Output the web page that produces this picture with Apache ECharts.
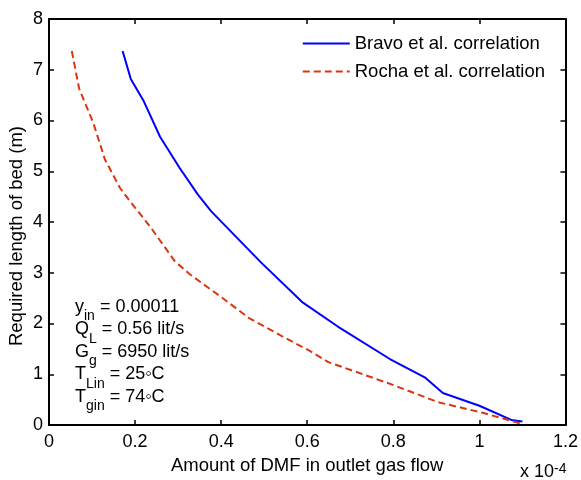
<!DOCTYPE html>
<html>
<head>
<meta charset="utf-8">
<script src="https://cdn.jsdelivr.net/npm/echarts@6/dist/echarts.min.js"></script>
<style>
  html, body { margin: 0; padding: 0; background: #fff; }
  #chart { width: 581px; height: 480px; }
</style>
</head>
<body>
<div id="chart"></div>
<script>
// values (x in units of 1e-4)
const bravoX = [0.171, 0.190, 0.219, 0.258, 0.304, 0.346, 0.377, 0.493, 0.590, 0.671, 0.792, 0.873, 0.915, 1.000, 1.074, 1.100];
const bravoY = [7.37, 6.82, 6.40, 5.68, 5.06, 4.54, 4.21, 3.20, 2.41, 1.94, 1.30, 0.94, 0.63, 0.38, 0.10, 0.07];
const rochaX = [0.053, 0.070, 0.103, 0.130, 0.165, 0.188, 0.234, 0.292, 0.327, 0.397, 0.466, 0.548, 0.606, 0.649, 0.799, 0.904, 1.008, 1.100];
const rochaY = [7.37, 6.63, 5.95, 5.23, 4.67, 4.41, 3.92, 3.23, 2.97, 2.54, 2.10, 1.72, 1.46, 1.24, 0.79, 0.45, 0.24, 0.02];
const seriesNames = ['Bravo et al. correlation', 'Rocha et al. correlation'];
const xTicks = { min: 0, max: 1.2, step: 0.2 };
const yTicks = { min: 0, max: 8, step: 1 };

const font = "'Liberation Sans', Arial, sans-serif";
const chart = echarts.init(document.getElementById('chart'));

const pairs = (xs, ys) => xs.map((x, i) => [x, ys[i]]);

const axisCommon = {
  axisLine: { onZero: false, lineStyle: { color: '#000', width: 2 } },
  axisTick: { inside: true, length: 5, lineStyle: { color: '#000', width: 1.5 } },
  splitLine: { show: false },
};

const option = {
  animation: false,
  textStyle: { fontFamily: font },
  grid: { left: 49, right: 15, top: 19, bottom: 54 },
  legend: {
    orient: 'vertical',
    right: 31,
    top: 29,
    itemWidth: 47,
    itemHeight: 14,
    itemGap: 9,
    itemStyle: { opacity: 0 },
    textStyle: { fontSize: 18.5, color: '#000', fontFamily: font },
    data: seriesNames,
  },
  xAxis: [
    {
      ...axisCommon,
      type: 'value',
      min: xTicks.min, max: xTicks.max, interval: xTicks.step,
      name: 'Amount of DMF in outlet gas flow',
      nameLocation: 'middle',
      nameGap: 31,
      nameTextStyle: { fontSize: 18.5, color: '#000' },
      axisLabel: {
        fontSize: 18, color: '#000', margin: 8,
        formatter: (v) => String(+v.toFixed(1)),
      },
    },
    {
      ...axisCommon,
      type: 'value', position: 'top',
      min: xTicks.min, max: xTicks.max, interval: xTicks.step,
      axisLabel: { show: false },
    },
  ],
  yAxis: [
    {
      ...axisCommon,
      type: 'value',
      min: yTicks.min, max: yTicks.max, interval: yTicks.step,
      axisLabel: { fontSize: 18, color: '#000', margin: 6 },
    },
    {
      ...axisCommon,
      type: 'value', position: 'right',
      min: yTicks.min, max: yTicks.max, interval: yTicks.step,
      axisLabel: { show: false },
    },
  ],
  series: [
    {
      name: seriesNames[0],
      type: 'line',
      data: pairs(bravoX, bravoY),
      showSymbol: false,
      symbol: 'none',
      lineStyle: { color: '#0000ff', width: 2 },
      itemStyle: { color: '#0000ff' },
    },
    {
      name: seriesNames[1],
      type: 'line',
      data: pairs(rochaX, rochaY),
      showSymbol: false,
      symbol: 'none',
      lineStyle: { color: '#dd3311', width: 2, type: [7, 4] },
      itemStyle: { color: '#dd3311' },
    },
  ],
  graphic: [
    {
      type: 'text',
      x: 17,
      y: 236,
      rotation: Math.PI / 2,
      style: {
        text: 'Required length of bed (m)',
        font: '18.5px ' + font,
        fill: '#000',
        align: 'center',
        verticalAlign: 'middle',
      },
    },
    {
      type: 'text',
      left: 75,
      top: 298,
      style: {
        text: [
          '{n|y}{s|in}{n| = 0.00011}',
          '{n|Q}{s|L}{n| = 0.56 lit/s}',
          '{n|G}{s|g}{n| = 6950 lit/s}',
          '{n|T}{s|Lin}{n| = 25\u25E6C}',
          '{n|T}{s|gin}{n| = 74\u25E6C}',
        ].join('\n'),
        fill: '#000',
        font: '18px ' + font,
        rich: {
          n: { fontSize: 18, lineHeight: 22.5, fontFamily: font, fill: '#000' },
          s: { fontSize: 14, lineHeight: 10, verticalAlign: 'bottom', fontFamily: font, fill: '#000', padding: [0, 0, -5, 0] },
        },
      },
    },
    {
      type: 'text',
      left: 520,
      top: 462,
      style: {
        text: '{n|x 10}{p|-4}',
        fill: '#000',
        rich: {
          n: { fontSize: 18, lineHeight: 20, fontFamily: font, fill: '#000' },
          p: { fontSize: 14, lineHeight: 10, verticalAlign: 'top', fontFamily: font, fill: '#000' },
        },
      },
    },
  ],
};

chart.setOption(option);
</script>
</body>
</html>
